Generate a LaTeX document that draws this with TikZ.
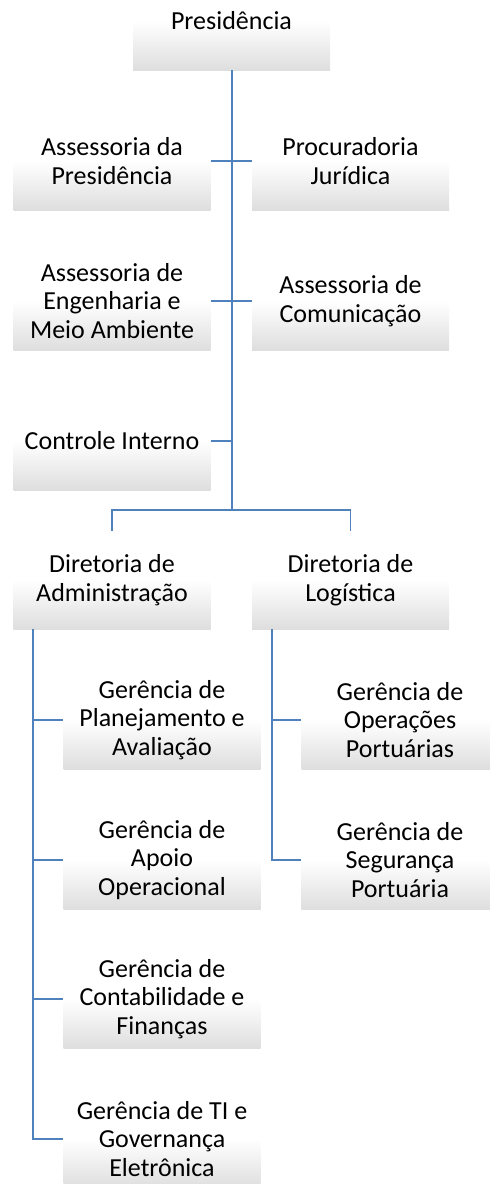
\documentclass[tikz,border=0pt]{standalone}
\usepackage{fontspec}
\setmainfont{Carlito}
\definecolor{linkblue}{RGB}{79,129,189}
\definecolor{boxgray}{RGB}{222,222,222}
\pgfdeclareverticalshading{boxshade}{100bp}{color(0bp)=(boxgray); color(25bp)=(boxgray); color(50bp)=(white); color(75bp)=(white); color(100bp)=(white)}
\tikzset{
  orgbox/.style={shading=boxshade, minimum width=197pt, minimum height=98pt, inner sep=0pt,
    align=center, font=\fontsize{26}{28.5}\selectfont, text=black},
  link/.style={draw=linkblue, line width=1.4pt}
}
\begin{document}
\begin{tikzpicture}[x=1pt,y=-1pt]
\useasboundingbox (0,0) rectangle (490,1184);
\node[orgbox] (pres) at (231.5,21) {Presidência};
\node[orgbox] (assP) at (112,161) {Assessoria da\\Presidência};
\node[orgbox] (proc) at (350.5,161) {Procuradoria\\Jurídica};
\node[orgbox] (eng) at (112,301) {Assessoria de\\Engenharia e\\Meio Ambiente};
\node[orgbox] (com) at (350.5,301) {Assessoria de\\Comunicação};
\node[orgbox] (ctrl) at (112,441) {Controle Interno};
\node[orgbox] (dirA) at (112,580) {Diretoria de\\Administração};
\node[orgbox] (dirL) at (350.5,580) {Diretoria de\\Logística};
\node[orgbox] (gPlan) at (162,720) {Gerência de\\Planejamento e\\Avaliação};
\node[orgbox] (gApoio) at (162,860) {Gerência de\\Apoio\\Operacional};
\node[orgbox] (gCont) at (162,999) {Gerência de\\Contabilidade e\\Finanças};
\node[orgbox] (gTI) at (162,1139) {Gerência de TI e\\Governança\\Eletrônica};
\node[orgbox] (gOp) at (400,720) {Gerência de\\Operações\\Portuárias};
\node[orgbox] (gSeg) at (400,860) {Gerência de\\Segurança\\Portuária};
\coordinate (j) at (232,510);
\coordinate (la) at (33,629);
\coordinate (ra) at (272,629);
\draw[link] (232,70) -- (j);
\draw[link] (assP.east) -- (proc.west);
\draw[link] (eng.east) -- (com.west);
\draw[link] (ctrl.east) -- (ctrl.east -| j);
\draw[link] (dirA.north) |- (j) -| (dirL.north);
\draw[link] (la) |- (gTI.west);
\draw[link] (la |- gPlan.west) -- (gPlan.west);
\draw[link] (la |- gApoio.west) -- (gApoio.west);
\draw[link] (la |- gCont.west) -- (gCont.west);
\draw[link] (ra) |- (gSeg.west);
\draw[link] (ra |- gOp.west) -- (gOp.west);
\end{tikzpicture}
\end{document}
